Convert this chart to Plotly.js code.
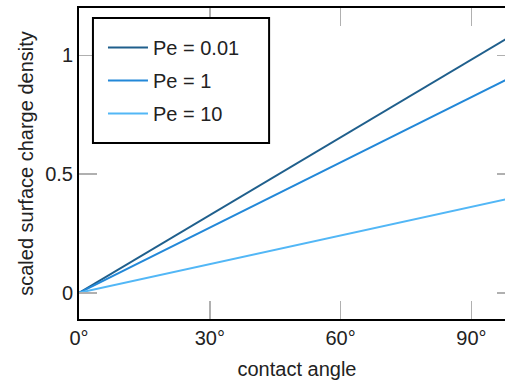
<!DOCTYPE html>
<html>
<head>
<meta charset="utf-8">
<script src="https://cdn.plot.ly/plotly-3.0.1.min.js"></script>
<style>html,body{margin:0;padding:0;overflow:hidden;background:#fff;}</style>
</head>
<body>
<div id="chart"></div>
<script>
// Data
const angle = [0, 100];                 // contact angle (degrees)
const pe001 = [0, 1.092];               // Pe = 0.01
const pe1   = [0, 0.916];               // Pe = 1
const pe10  = [0, 0.403];               // Pe = 10
const seriesNames = ['Pe = 0.01', 'Pe = 1', 'Pe = 10'];
const xTicks = [0, 30, 60, 90];
const xTickText = ['0°', '30°', '60°', '90°'];
const yTicks = [0, 0.5, 1];
const yTickText = ['0', '0.5', '1'];

const colors = ['#1f5f8c', '#2388d8', '#52b7f6'];
const ys = [pe001, pe1, pe10];

const traces = ys.map((y, i) => ({
  x: angle, y: y, type: 'scatter', mode: 'lines',
  name: seriesNames[i], legendgroup: 'g' + i,
  line: {color: colors[i], width: 2}
}));

const font = {family: 'Liberation Sans, Arial, sans-serif', size: 20, color: '#222'};

const layout = {
  width: 520, height: 380,
  margin: {l: 79, r: 5, t: 8, b: 61},
  paper_bgcolor: '#fff', plot_bgcolor: '#fff',
  font: font,
  showlegend: true,
  legend: {
    x: 0.055, y: 0.936, xanchor: 'left', yanchor: 'top',
    bgcolor: 'rgba(0,0,0,0)', borderwidth: 0,
    font: font, tracegroupgap: 4, itemwidth: 40
  },
  xaxis: {
    range: [0, 100], tickvals: xTicks, ticktext: xTickText,
    ticks: 'inside', ticklen: 18, tickwidth: 1.5, tickcolor: '#b0b0b0',
    showline: true, linecolor: '#000', linewidth: 2, mirror: 'ticks',
    showgrid: false, zeroline: false,
    title: {text: 'contact angle', font: font, standoff: 14}
  },
  yaxis: {
    range: [-0.11, 1.2], tickvals: yTicks, ticktext: yTickText,
    ticks: 'inside', ticklen: 18, tickwidth: 1.5, tickcolor: '#b0b0b0',
    showline: true, linecolor: '#000', linewidth: 2, mirror: 'ticks',
    showgrid: false, zeroline: false,
    title: {text: 'scaled surface charge density', font: font, standoff: 6}
  },
  shapes: [{
    type: 'rect', xref: 'paper', yref: 'paper', layer: 'above',
    x0: 0.032, x1: 0.436, y0: 0.566, y1: 0.968,
    line: {color: '#000', width: 2}, fillcolor: '#fff'
  }]
};

Plotly.newPlot('chart', traces, layout, {displayModeBar: false, staticPlot: true});
</script>
</body>
</html>
